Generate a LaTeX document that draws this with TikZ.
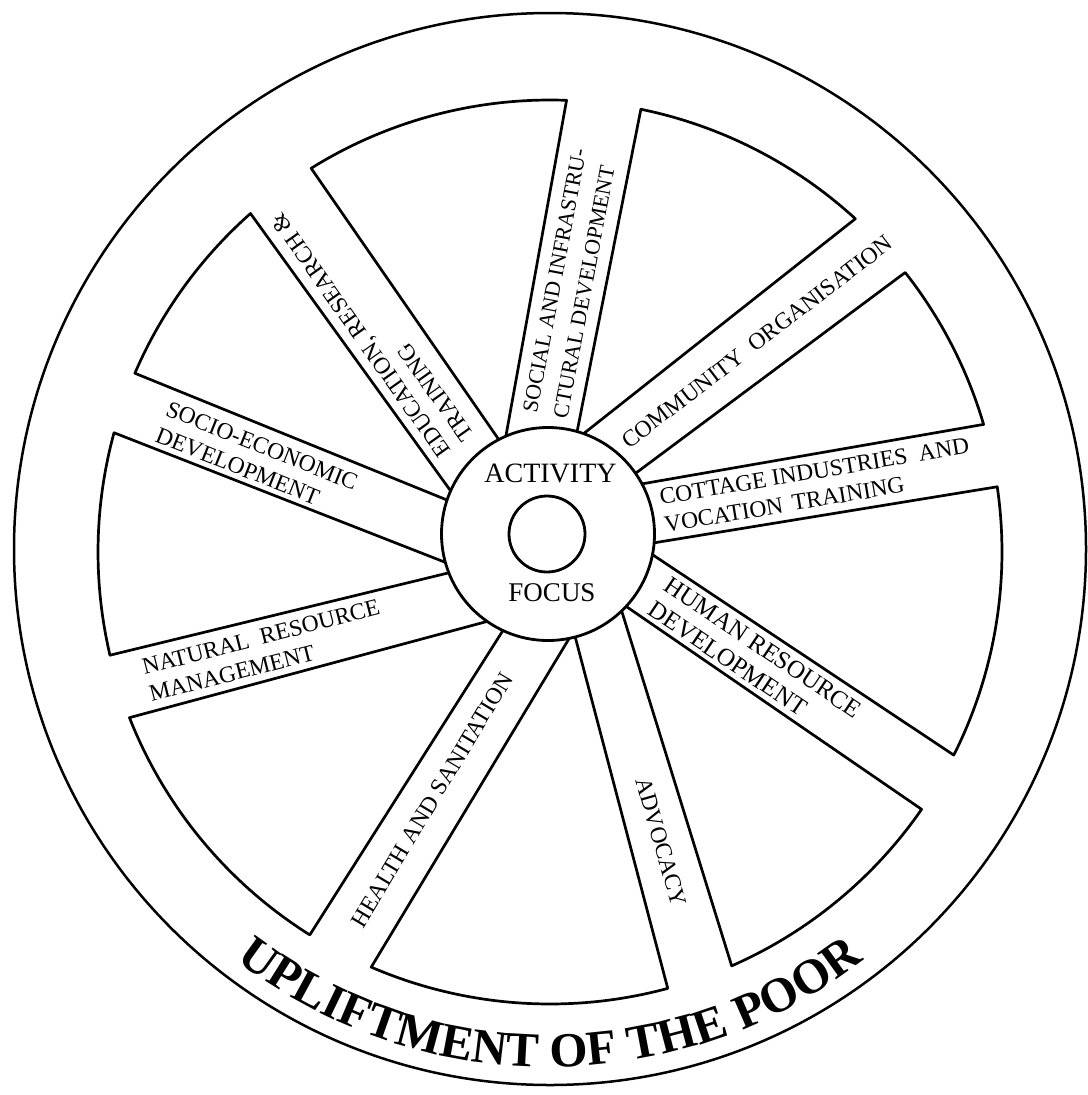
\documentclass[tikz,border=0pt]{standalone}
\usepackage{fontspec}
\setmainfont{Liberation Serif}
\usetikzlibrary{calc,decorations.text}
\newcommand\wheelseg[4]{%
  \coordinate (c1) at ($(O)+(#2:452)$);
  \coordinate (c2) at ($(O)+(#3:452)$);
  \coordinate (h1) at (#1);
  \coordinate (h2) at (#4);
  \draw[rimline] ($(h1)!-14pt!(c1)$) -- (c1) arc[start angle=#2, end angle=#3, radius=452] -- ($(h2)!-14pt!(c2)$);
}
\begin{document}
\begin{tikzpicture}[x=1pt,y=1pt,line join=round,
  rimline/.style={line width=2.7pt},
  lab/.style={inner sep=0pt, font=\fontsize{23.5}{28}\selectfont, align=left},
  ring/.style={circle, draw, line width=2.8pt, inner sep=0pt}]
\useasboundingbox (0,0) rectangle (1087,-1095);
\fill[white] (0,0) rectangle (1087,-1095);
\coordinate (O) at (550,-552);
% outer rim
\draw[line width=2.5pt] (550,-549) circle[radius=536];
% white sectors between the spokes
\wheelseg{497,-437}{121.9}{87.9}{507,-430}
\wheelseg{578,-427}{78.4}{47.5}{592,-427}
\wheelseg{640,-470}{38.2}{16.4}{647,-483}
\wheelseg{653,-543}{8.3}{-26.7}{650,-553}
\wheelseg{627,-607}{-34.7}{-66.3}{622,-612}
\wheelseg{576,-640}{-74.9}{-113.3}{567,-642}
\wheelseg{502,-632}{237.9}{201.5}{485,-622}
\wheelseg{448,-573}{193.2}{164.7}{447,-563}
\wheelseg{447,-500}{156.7}{131.5}{450,-490}
% hub
\node[ring, fill=white, minimum size=213pt] (hub) at (548,-534) {};
\node[ring, minimum size=76pt] (core) at (547,-534) {};
\node[inner sep=0pt, font=\fontsize{28}{28}\selectfont] (activity) at (550.5,-473) {ACTIVITY};
\node[inner sep=0pt, font=\fontsize{27}{27}\selectfont] (focus) at (552,-592.5) {FOCUS};
% spoke labels
\node[lab, rotate=79.3, anchor=west, font=\fontsize{22}{31}\selectfont] (social) at (545,-415) {SOCIAL AND INFRASTRU-\\CTURAL DEVELOPMENT};
\node[lab, rotate=37.5] (community) at (757,-342) {COMMUNITY\hspace{0.5em}ORGANISATION};
\node[lab, rotate=9.5, anchor=west] (cottage) at (662,-511) {COTTAGE INDUSTRIES\hspace{0.5em}AND\\VOCATION\hspace{0.4em}TRAINING};
\node[lab, rotate=-34, anchor=west, font=\fontsize{25}{29}\selectfont] (human) at (659,-595) {HUMAN RESOURCE\\DEVELOPMENT};
\node[lab, rotate=-74] (advocacy) at (661,-842) {ADVOCACY};
\node[lab, rotate=59] (health) at (432,-800) {HEALTH AND SANITATION};
\node[lab, rotate=14.4, anchor=west] (natural) at (146,-681) {NATURAL\hspace{0.5em}RESOURCE\\MANAGEMENT};
\node[lab, rotate=-21.8, anchor=west] (socio) at (162,-421) {SOCIO-ECONOMIC\\DEVELOPMENT};
\node[lab, rotate=125.3, anchor=west] (education) at (457,-447) {EDUCATION, RESEARCH \&\\TRAINING};
% curved title in the rim
\path[decorate, decoration={text along path, text align=center,
  text={|\fontsize{49}{49}\selectfont\bfseries|UPLIFTMENT OF THE POOR}}]
  ($(O)+(215:515)$) arc[start angle=215, end angle=325, radius=515];
\end{tikzpicture}
\end{document}
